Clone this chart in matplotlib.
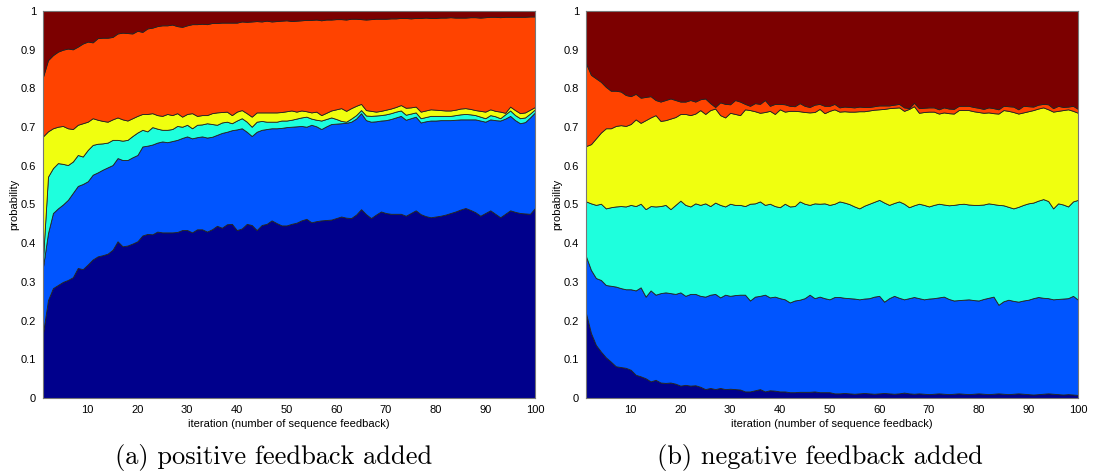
import numpy as np
import matplotlib
matplotlib.use('Agg')
from matplotlib import pyplot as plt

# iteration index shared by both panels
iters = np.arange(1, 101)

# (a) positive feedback added: cumulative top edge of each band (bottom to top)
pos_top1 = [.168, .253, .284, .292, .300, .305, .312, .336, .333, .345,
            .358, .366, .369, .373, .383, .405, .392, .394, .399, .405,
            .420, .424, .423, .430, .428, .428, .428, .429, .434, .434,
            .428, .436, .436, .430, .436, .445, .440, .449, .450, .434,
            .438, .450, .447, .434, .447, .450, .459, .452, .446, .446,
            .450, .453, .459, .463, .454, .457, .459, .460, .461, .465,
            .469, .466, .465, .474, .488, .475, .465, .474, .482, .478,
            .476, .476, .476, .471, .478, .485, .475, .470, .467, .469,
            .471, .474, .478, .482, .487, .491, .486, .480, .471, .478,
            .485, .476, .467, .476, .485, .481, .478, .477, .476, .491]
pos_top2 = [.339, .426, .478, .490, .500, .512, .530, .548, .553, .560,
            .577, .583, .590, .596, .602, .620, .615, .615, .622, .628,
            .650, .652, .655, .660, .663, .661, .664, .667, .672, .676,
            .671, .674, .676, .673, .675, .680, .685, .688, .692, .694,
            .697, .688, .677, .688, .693, .695, .697, .697, .698, .700,
            .701, .702, .703, .701, .706, .702, .695, .702, .708, .709,
            .710, .711, .714, .722, .736, .718, .714, .715, .717, .718,
            .721, .725, .729, .719, .723, .727, .712, .715, .717, .717,
            .718, .718, .718, .719, .720, .720, .720, .720, .717, .714,
            .720, .718, .717, .722, .729, .718, .710, .713, .725, .738]
pos_top3 = [.360, .572, .594, .607, .605, .602, .611, .628, .624, .641,
            .654, .657, .658, .660, .667, .667, .665, .667, .677, .686,
            .693, .689, .700, .696, .693, .693, .695, .703, .701, .706,
            .697, .706, .707, .710, .708, .706, .712, .714, .710, .717,
            .723, .714, .701, .714, .716, .714, .714, .714, .717, .717,
            .719, .722, .725, .727, .722, .719, .717, .721, .725, .721,
            .716, .714, .722, .731, .744, .730, .729, .730, .731, .733,
            .736, .740, .743, .732, .735, .738, .723, .726, .729, .729,
            .729, .729, .729, .731, .733, .734, .733, .731, .727, .723,
            .731, .728, .723, .733, .743, .731, .723, .725, .735, .746]
pos_top4 = [.676, .689, .697, .701, .703, .697, .695, .706, .710, .714,
            .723, .719, .716, .714, .720, .725, .720, .717, .723, .729,
            .734, .734, .736, .731, .729, .734, .731, .736, .727, .734,
            .736, .729, .731, .731, .736, .738, .739, .740, .731, .740,
            .744, .736, .727, .738, .738, .738, .738, .738, .739, .741,
            .743, .740, .743, .741, .738, .740, .731, .737, .743, .746,
            .749, .742, .749, .755, .760, .744, .742, .740, .742, .745,
            .748, .752, .757, .750, .751, .753, .740, .743, .746, .745,
            .744, .743, .743, .745, .748, .749, .747, .744, .742, .740,
            .746, .742, .740, .737, .753, .744, .736, .738, .745, .752]
pos_top5 = [.830, .873, .886, .895, .900, .903, .901, .908, .916, .921,
            .919, .930, .931, .931, .933, .942, .944, .943, .942, .949,
            .946, .955, .957, .961, .963, .963, .965, .961, .959, .963,
            .966, .966, .967, .966, .969, .969, .970, .970, .970, .970,
            .973, .972, .973, .974, .973, .975, .973, .974, .975, .976,
            .974, .975, .976, .977, .977, .978, .976, .978, .978, .979,
            .979, .978, .980, .980, .979, .978, .979, .980, .980, .980,
            .981, .981, .982, .982, .981, .982, .982, .983, .982, .982,
            .983, .983, .984, .983, .983, .983, .984, .984, .983, .984,
            .985, .985, .984, .985, .985, .985, .985, .985, .986, .986]

# (b) negative feedback added
neg_top1 = [.219, .168, .137, .120, .105, .094, .082, .080, .078, .073,
            .060, .056, .051, .043, .047, .040, .039, .040, .037, .032,
            .034, .032, .033, .029, .023, .026, .023, .026, .023, .024,
            .023, .022, .017, .017, .020, .023, .017, .020, .019, .017,
            .017, .015, .015, .016, .016, .016, .017, .015, .015, .015,
            .012, .012, .013, .012, .011, .012, .013, .012, .011, .012,
            .013, .012, .011, .012, .014, .012, .011, .012, .011, .010,
            .011, .012, .011, .010, .011, .012, .011, .010, .011, .012,
            .011, .010, .011, .012, .011, .010, .011, .012, .011, .010,
            .009, .010, .011, .012, .011, .010, .009, .010, .009, .008]
neg_top2 = [.366, .331, .310, .305, .292, .290, .288, .284, .281, .281,
            .278, .286, .262, .278, .267, .271, .273, .271, .269, .273,
            .264, .269, .269, .264, .262, .267, .269, .260, .267, .264,
            .266, .267, .267, .252, .262, .264, .267, .260, .262, .258,
            .255, .247, .252, .254, .258, .267, .258, .262, .258, .255,
            .261, .261, .259, .258, .257, .255, .257, .258, .262, .264,
            .249, .258, .264, .259, .255, .258, .261, .258, .255, .257,
            .258, .260, .262, .256, .252, .253, .254, .255, .253, .252,
            .256, .259, .262, .241, .250, .254, .251, .249, .252, .254,
            .258, .261, .259, .258, .255, .256, .257, .258, .264, .254]
neg_top3 = [.508, .503, .499, .502, .490, .493, .495, .496, .495, .499,
            .496, .502, .488, .496, .495, .496, .499, .488, .499, .510,
            .499, .495, .503, .499, .503, .496, .505, .499, .495, .502,
            .499, .499, .496, .502, .503, .508, .499, .502, .496, .493,
            .502, .495, .496, .508, .502, .499, .503, .502, .503, .499,
            .502, .508, .505, .501, .495, .490, .497, .502, .507, .512,
            .505, .499, .504, .508, .502, .493, .498, .502, .499, .495,
            .499, .502, .500, .498, .499, .501, .502, .500, .499, .499,
            .500, .503, .501, .499, .498, .494, .490, .494, .499, .503,
            .505, .510, .514, .509, .490, .503, .500, .495, .508, .512]
neg_top4 = [.651, .656, .671, .686, .697, .697, .703, .705, .703, .708,
            .720, .711, .718, .725, .731, .716, .718, .722, .726, .734,
            .734, .731, .735, .744, .734, .744, .748, .731, .725, .737,
            .734, .731, .746, .744, .741, .737, .739, .742, .734, .746,
            .740, .742, .742, .741, .739, .738, .739, .747, .736, .742,
            .746, .740, .741, .740, .740, .741, .741, .743, .745, .746,
            .747, .749, .750, .751, .742, .747, .754, .737, .739, .740,
            .740, .735, .738, .736, .735, .744, .744, .744, .741, .739,
            .737, .738, .736, .735, .744, .742, .739, .735, .738, .741,
            .744, .748, .751, .746, .740, .742, .744, .746, .742, .737]
neg_top5 = [.865, .835, .826, .817, .804, .794, .794, .792, .783, .780,
            .786, .776, .778, .780, .770, .766, .770, .774, .770, .766,
            .766, .770, .766, .772, .774, .762, .752, .764, .760, .759,
            .770, .766, .760, .755, .762, .760, .770, .755, .760, .760,
            .759, .755, .754, .762, .755, .752, .758, .760, .755, .755,
            .760, .751, .753, .752, .751, .753, .752, .752, .754, .756,
            .756, .756, .758, .760, .751, .749, .763, .749, .750, .751,
            .751, .746, .751, .748, .747, .755, .755, .755, .752, .750,
            .747, .751, .749, .746, .755, .754, .753, .746, .755, .754,
            .753, .758, .760, .759, .749, .755, .752, .753, .755, .747]

band_colors = ['#00008C', '#0055FF', '#1EFFDD', '#F0FF0F', '#FF4300', '#7C0000']
captions = ['(a) positive feedback added', '(b) negative feedback added']


def band_sizes(tops):
    cum = np.vstack([np.zeros(100)] + [np.array(t) for t in tops] + [np.ones(100)])
    assert cum.shape == (7, 100)
    return np.diff(cum, axis=0)


panels = [band_sizes([pos_top1, pos_top2, pos_top3, pos_top4, pos_top5]),
          band_sizes([neg_top1, neg_top2, neg_top3, neg_top4, neg_top5])]

plt.rcParams['font.family'] = ['Liberation Sans', 'DejaVu Sans']
fig = plt.figure(figsize=(10.94, 4.74), dpi=100)

lefts = [43 / 1094, 586 / 1094]
caption_x = [274 / 1094, 820 / 1094]
for i in range(2):
    ax = fig.add_axes([lefts[i], 76 / 474, 492 / 1094, 387 / 474])
    ax.stackplot(iters, panels[i], colors=band_colors, edgecolor='#222222', linewidth=0.6)
    ax.set_xlim(1, 100)
    ax.set_ylim(0, 1)
    ax.set_xticks(np.arange(10, 101, 10))
    ax.set_yticks(np.arange(0, 1.01, 0.1))
    ax.set_yticklabels(['0', '0.1', '0.2', '0.3', '0.4', '0.5', '0.6', '0.7', '0.8', '0.9', '1'])
    ax.tick_params(length=0, labelsize=8, pad=5)
    for s in ax.spines.values():
        s.set_color('#777777')
        s.set_linewidth(0.8)
    ax.set_xlabel('iteration (number of sequence feedback)', fontsize=8, labelpad=3)
    ax.set_ylabel('probability', fontsize=8, labelpad=1)
    fig.text(caption_x[i], 10 / 474, captions[i], family='cmr10', fontsize=19,
             ha='center', va='baseline')

fig.savefig('out.png', dpi=100)
